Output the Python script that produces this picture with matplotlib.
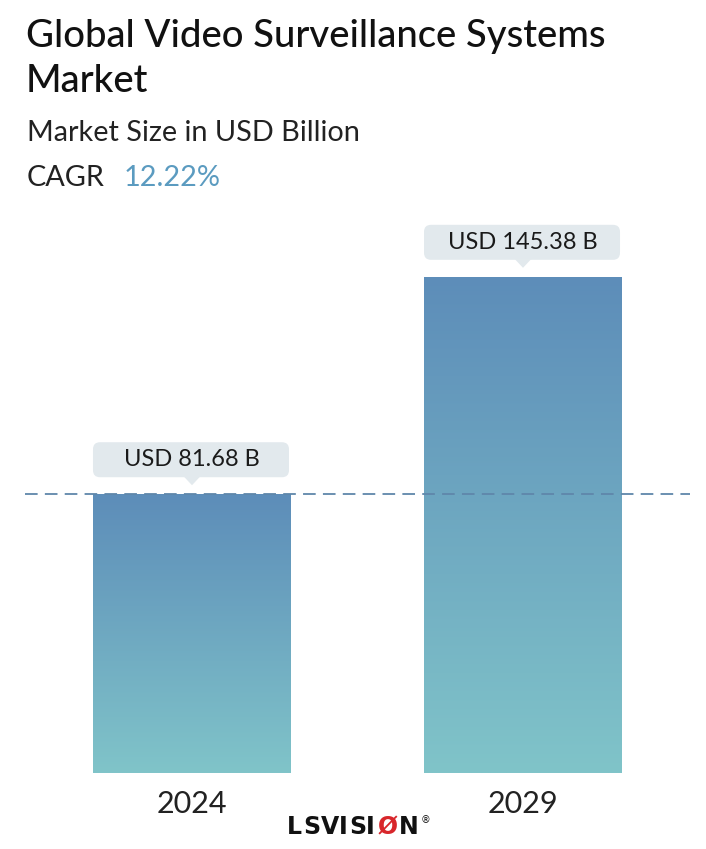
import numpy as np
import matplotlib
matplotlib.use("Agg")
import matplotlib.pyplot as plt
import matplotlib.transforms as mtransforms
from matplotlib.patches import FancyBboxPatch, Polygon
from matplotlib.colors import LinearSegmentedColormap

# ---- data ----
years = ["2024", "2029"]
values = [81.68, 145.38]
value_labels = ["USD 81.68 B", "USD 145.38 B"]
title_line1 = "Global Video Surveillance Systems"
title_line2 = "Market"
subtitle = "Market Size in USD Billion"
cagr_label = "CAGR"
cagr_value = "12.22%"
logo_letters = ["L", "S", "V", "I", "S", "I", "Ø", "N"]

W, H = 706, 849
fig = plt.figure(figsize=(W / 100, H / 100), dpi=100)
fig.patch.set_facecolor("white")

FONT = ["Lato", "DejaVu Sans"]

def fy(px):
    return 1 - px / H

def fx(px):
    return px / W

# ---- axes: pixel-mapped ----
ax_left, ax_right = 25, 690
ax_bottom_px, ax_top_px = 773, 210
ax = fig.add_axes([fx(ax_left), fy(ax_bottom_px), fx(ax_right - ax_left),
                   (ax_bottom_px - ax_top_px) / H])
scale = 3.413  # px per unit
for s in ax.spines.values():
    s.set_visible(False)
ax.set_yticks([])
x = np.arange(len(years))
ax.set_xticks(x)
ax.set_xticklabels(years, fontsize=22, color="#222222", family=FONT)
ax.tick_params(axis="x", length=0, pad=12)

cmap = LinearSegmentedColormap.from_list("g", ["#80c4c9", "#5d8db9"])
bar_w = 0.598
bars = ax.bar(x, values, width=bar_w, color="none", edgecolor="none", zorder=2)
grad = np.linspace(0, 1, 256).reshape(-1, 1)
for b, v in zip(bars, values):
    x0 = b.get_x()
    im = ax.imshow(grad, cmap=cmap, origin="lower", aspect="auto",
                   extent=(x0, x0 + bar_w, 0, v), zorder=2)
    im.set_clip_path(b)

ax.set_xlim(-0.5045, 1.5045)
ax.set_ylim(0, (ax_bottom_px - ax_top_px) / scale)

# dashed reference line at first value
ax.axhline(values[0], color="#5f87aa", lw=1.3, dashes=(7, 4), zorder=3)

# ---- value callouts ----
bw, bh, gap = 196, 35, 17
for xi, v, lab in zip(x, values, value_labels):
    tr = mtransforms.Affine2D() + mtransforms.ScaledTranslation(xi, v, ax.transData)
    box = FancyBboxPatch((-bw / 2 - 1, gap), bw, bh,
                         boxstyle="round,pad=0,rounding_size=7",
                         fc="#e2e9ed", ec="none", transform=tr, zorder=4,
                         clip_on=False)
    ax.add_patch(box)
    tri = Polygon([(-8, gap + 0.5), (8, gap + 0.5), (0, gap - 8)], closed=True,
                  fc="#e2e9ed", ec="none", transform=tr, zorder=4, clip_on=False)
    ax.add_patch(tri)
    ax.text(0, gap + bh / 2, lab, transform=tr, ha="center", va="center",
            fontsize=17, color="#1a1a1a", family=FONT, zorder=5)

# ---- titles ----
fig.text(fx(26), fy(47), title_line1, fontsize=27.5, fontweight="medium",
         color="#111111", family=FONT, va="baseline", ha="left")
fig.text(fx(26), fy(92), title_line2, fontsize=27.5, fontweight="medium",
         color="#111111", family=FONT, va="baseline", ha="left")
fig.text(fx(27), fy(141), subtitle, fontsize=20.8, color="#222222",
         family=FONT, va="baseline", ha="left")
fig.text(fx(27), fy(186), cagr_label, fontsize=20.8, color="#222222",
         family=FONT, va="baseline", ha="left")
fig.text(fx(124), fy(186), cagr_value, fontsize=20.8, color="#5b9bc0",
         family=FONT, va="baseline", ha="left")

# ---- logo ----
logo_x = [294.5, 312, 330, 343, 358, 370.5, 388, 409]
for ch, lx in zip(logo_letters, logo_x):
    col = "#d8262b" if ch == "Ø" else "#111111"
    fig.text(fx(lx), fy(834), ch, fontsize=17, fontweight="heavy",
             color=col, family=["DejaVu Sans"], va="baseline", ha="center")
fig.text(fx(425.5), fy(823), "®", fontsize=7, color="#111111",
         family=["DejaVu Sans"], va="baseline", ha="center")

fig.savefig("out.png", dpi=100, facecolor="white")
